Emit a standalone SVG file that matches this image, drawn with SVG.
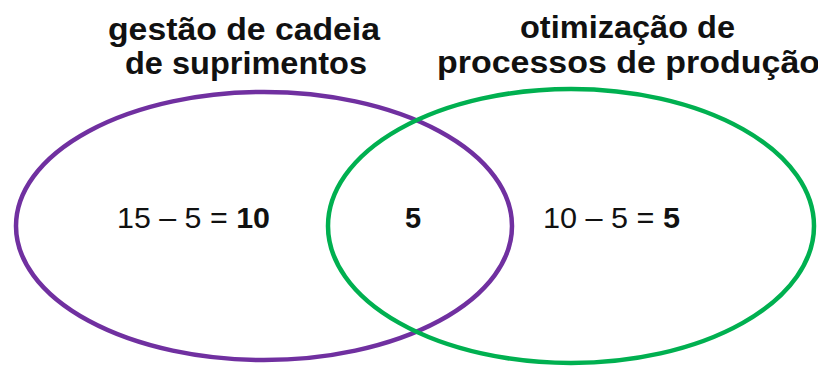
<svg xmlns="http://www.w3.org/2000/svg" width="818" height="369" viewBox="0 0 818 369">
<style>
.t{font-family:"Liberation Sans",Arial,sans-serif;font-weight:bold;font-size:32px;fill:#111}
.n{font-family:"Liberation Sans",Arial,sans-serif;font-size:29px;fill:#111}
.b{font-weight:bold}
.set{fill:none;stroke-width:4.5}
</style>
<rect width="818" height="369" fill="#fff"/>
<g id="set-a">
<ellipse class="set" cx="264" cy="226" rx="248" ry="134" stroke="#7030A0"/>
<text class="t" x="108" y="40" textLength="272" lengthAdjust="spacingAndGlyphs">gestão de cadeia</text>
<text class="t" x="125" y="74" textLength="242" lengthAdjust="spacingAndGlyphs">de suprimentos</text>
<text class="n" x="117" y="228" textLength="153" lengthAdjust="spacingAndGlyphs">15 – 5 = <tspan class="b">10</tspan></text>
</g>
<g id="set-b">
<ellipse class="set" cx="571" cy="226" rx="243" ry="137" stroke="#00B050"/>
<text class="t" x="520" y="38" textLength="215" lengthAdjust="spacingAndGlyphs">otimização de</text>
<text class="t" x="437" y="73" textLength="383" lengthAdjust="spacingAndGlyphs">processos de produção</text>
<text class="n" x="543" y="228" textLength="137" lengthAdjust="spacingAndGlyphs">10 – 5 = <tspan class="b">5</tspan></text>
</g>
<g id="intersection">
<text class="n b" x="413" y="228" text-anchor="middle">5</text>
</g>
<g id="connectors"></g>
</svg>
